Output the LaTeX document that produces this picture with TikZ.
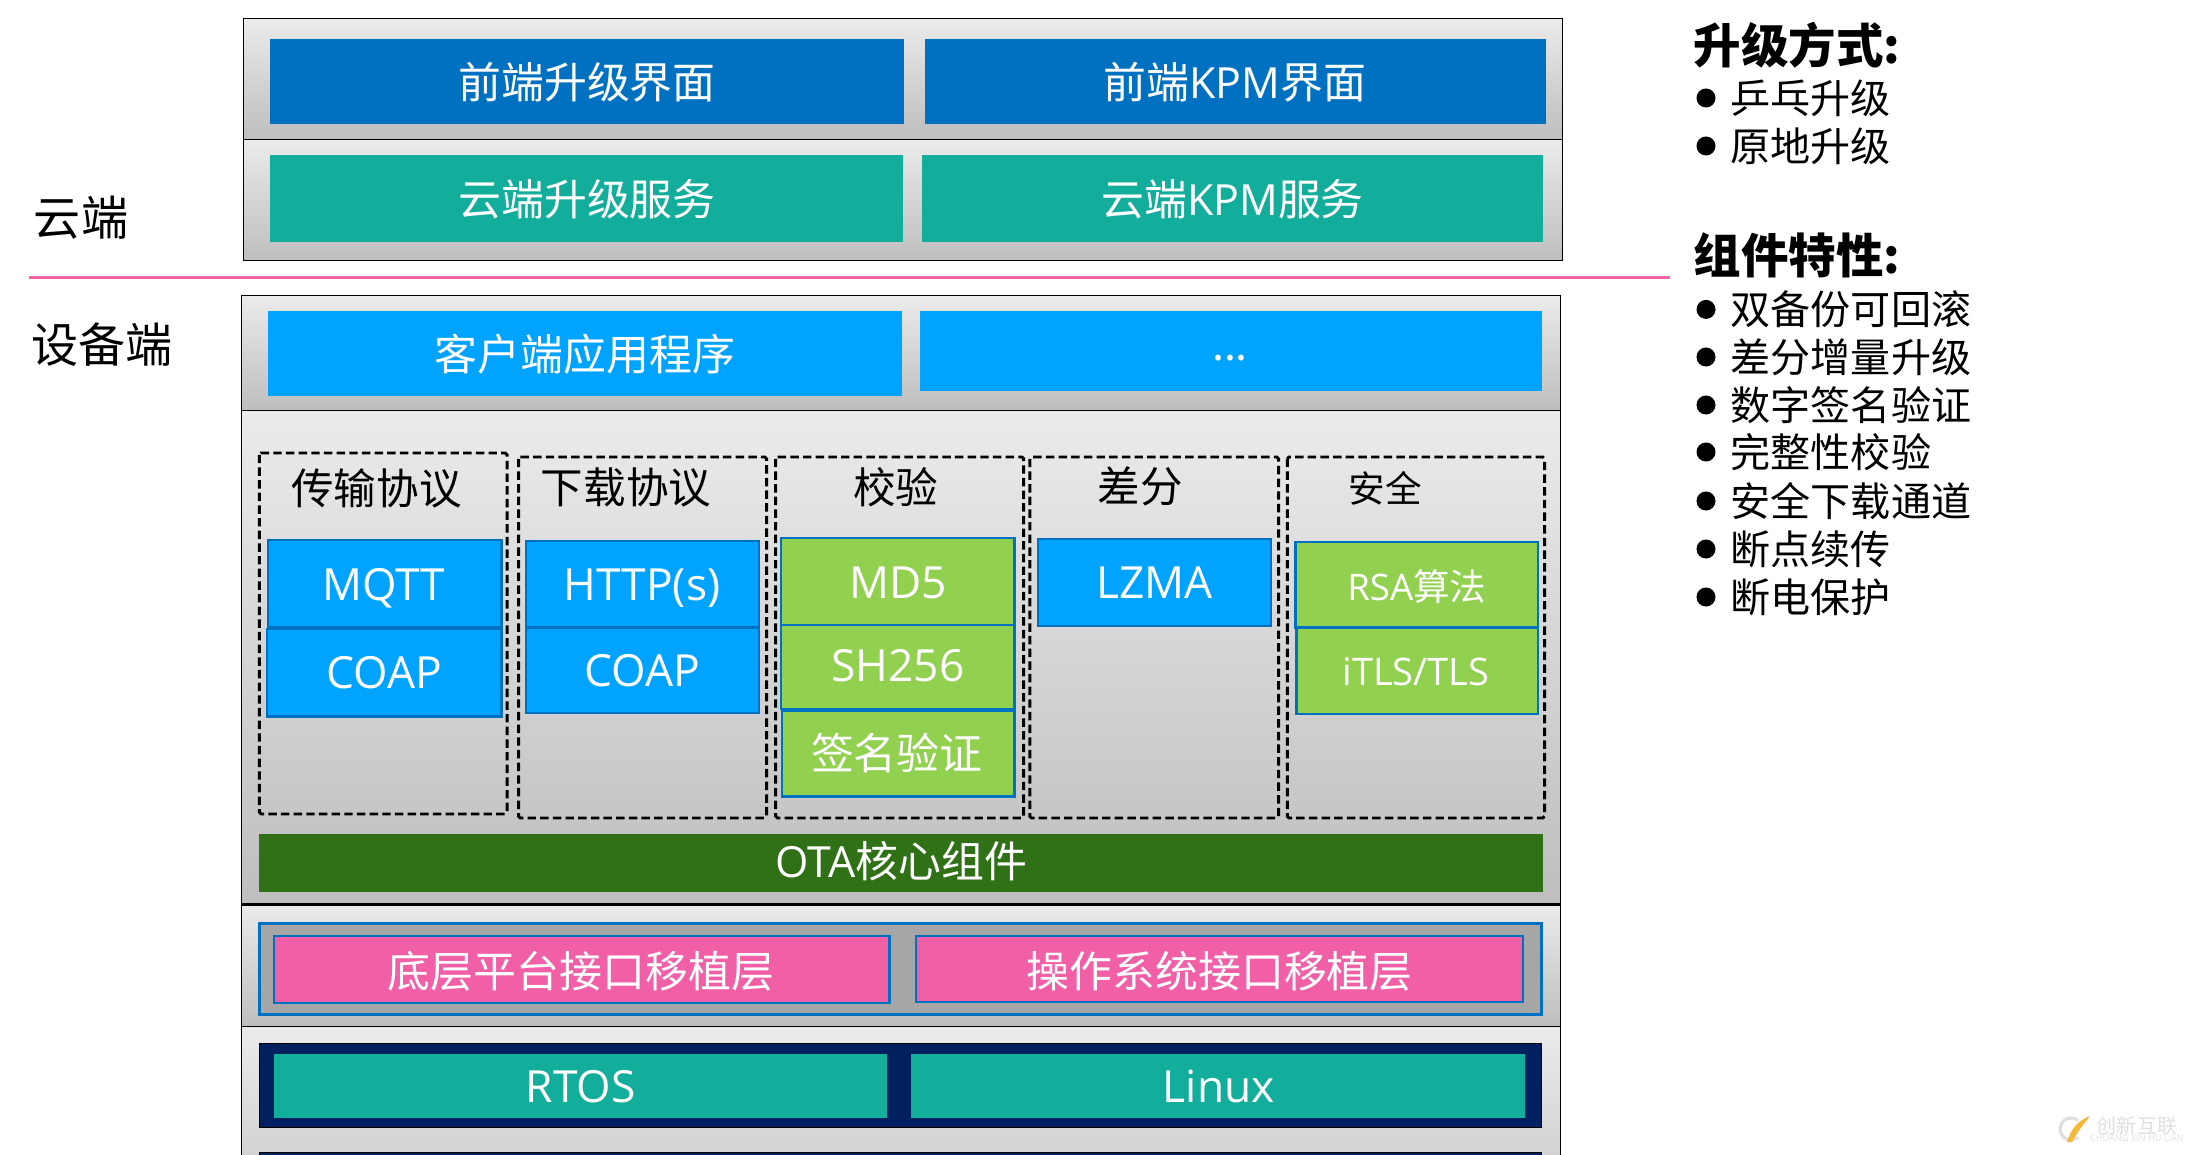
\documentclass[tikz,border=0pt]{standalone}
\usepackage{fontspec}
\setmainfont{Noto Sans CJK SC}
\newfontfamily\latinfont{Open Sans}
\definecolor{layertop}{HTML}{EBEBEB}
\definecolor{layerbot}{HTML}{BEBEBE}
\definecolor{frontblue}{HTML}{0070C0}
\definecolor{appblue}{HTML}{00A3FF}
\definecolor{tealbox}{HTML}{13AE9B}
\definecolor{limebox}{HTML}{92D050}
\definecolor{coregreen}{HTML}{307016}
\definecolor{pinkbox}{HTML}{F15FA6}
\definecolor{navybox}{HTML}{002060}
\definecolor{portgrey}{HTML}{A6A6A6}
\definecolor{markyellow}{HTML}{F5B93A}
\tikzset{
	layer/.style={draw=black, line width=0.45pt, top color=layertop, bottom color=layerbot},
	tile/.style={draw=frontblue, line width=0.75pt},
	group/.style={draw=black, line width=0.85pt, dash pattern=on 2.4pt off 1.2pt, rounded corners=0.5pt},
	boxtext/.style={text=white, inner sep=0pt, font=\fontsize{12.2}{14}\selectfont},
	latintext/.style={text=white, inner sep=0pt, text height=10pt, text depth=0pt, font=\latinfont\fontsize{12.6}{14}\selectfont},
	smalltext/.style={text=white, inner sep=0pt, font=\fontsize{10.4}{12}\selectfont},
	titletext/.style={text=black, inner sep=0pt, font=\fontsize{12.1}{14}\selectfont},
	sidetext/.style={text=black, inner sep=0pt, font=\fontsize{13.4}{15}\selectfont},
	headtext/.style={text=black, inner sep=0pt, anchor=west, font=\bfseries\fontsize{13.5}{16}\selectfont},
	itemtext/.style={text=black, inner sep=0pt, anchor=west, font=\fontsize{11.4}{13}\selectfont},
	itemdot/.style={circle, fill=black, inner sep=0pt, minimum size=0.19cm},
	marktext/.style={text=gray!25, inner sep=0pt},
}
\begin{document}
\begin{tikzpicture}[x=0.01cm, y=-0.01cm]
	\path[use as bounding box, clip] (0,0) rectangle (2191,1155);

	% 1. cloud layers
	\path[layer] (243.6,18.3) rectangle (1562.5,139.3);
	\path[layer] (243.6,139.3) rectangle (1562.5,260.3);
	\fill[frontblue] (269.8,39) rectangle (903.7,124);
	\fill[frontblue] (925,39) rectangle (1546,124);
	\fill[tealbox] (269.8,155) rectangle (903,242);
	\fill[tealbox] (922,155) rectangle (1543,242);
	\node[boxtext] (frontota) at (587,82) {前端升级界面};
	\node[boxtext] (frontkpm) at (1235,82) {前端{\latinfont KPM}界面};
	\node[boxtext] (cloudota) at (587,199) {云端升级服务};
	\node[boxtext] (cloudkpm) at (1232.6,199) {云端{\latinfont KPM}服务};

	% 2. split between cloud and device
	\coordinate (splitL) at (29,277.5);
	\coordinate (splitR) at (1670,277.5);
	\draw[pinkbox, line width=0.8pt] (splitL) -- (splitR);
	\node[sidetext] (cloudside) at (81,218) {云端};
	\node[sidetext] (deviceside) at (102,345) {设备端};

	% 3. device layers
	\path[layer] (241.7,295.3) rectangle (1560.5,410.7);
	\path[layer] (241.7,410.7) rectangle (1560.5,904.7);
	\path[layer] (241.7,904.7) rectangle (1560.5,1026.7);
	\path[layer] (241.7,1026.7) rectangle (1560.5,1267);
	\draw[black, line width=0.7pt] (241.7,904.7) -- (1560.5,904.7);

	% 4. application row
	\fill[appblue] (267.9,311) rectangle (901.8,396);
	\fill[appblue] (920.3,311) rectangle (1542,391);
	\node[boxtext] (clientapp) at (585,354) {客户端应用程序};
	\node[boxtext] (moreapp) at (1230,358) {...};

	% 5. dashed groups
	\draw[group] (259.4,453) rectangle (507,814);
	\draw[group] (518.6,457) rectangle (766.5,818);
	\draw[group] (775.7,457) rectangle (1023.7,818);
	\draw[group] (1029.8,457) rectangle (1278.5,818);
	\draw[group] (1287.3,457) rectangle (1544.5,818);
	\node[titletext] (transport) at (376.5,488) {传输协议};
	\node[titletext] (download) at (626,487) {下载协议};
	\node[titletext] (verify) at (895.6,487) {校验};
	\node[titletext] (diff) at (1140,486) {差分};
	\node[titletext, font=\fontsize{10.4}{12}\selectfont] (safety) at (1385,488) {安全};

	% 6. tiles inside the groups
	\draw[tile, fill=appblue] (268,540) rectangle (501.7,627);
	\draw[tile, fill=appblue] (267,629) rectangle (501.7,716.7);
	\draw[tile, fill=appblue] (526,541) rectangle (759,627);
	\draw[tile, fill=appblue] (526,628) rectangle (759,713);
	\draw[tile, fill=limebox] (781,538) rectangle (1014.5,625);
	\draw[tile, fill=limebox] (781,625) rectangle (1014.5,709);
	\draw[tile, fill=limebox] (782,710.7) rectangle (1014.5,796.7);
	\draw[tile, fill=appblue] (1038,539) rectangle (1271,626);
	\draw[tile, fill=limebox] (1295.7,542) rectangle (1538,627.7);
	\draw[tile, fill=limebox] (1296.5,628) rectangle (1538,714);
	\node[latintext] (mqtt) at (383.6,583) {MQTT};
	\node[latintext] (coapa) at (384,671) {COAP};
	\node[latintext] (http) at (642,583) {HTTP(s)};
	\node[latintext] (coapb) at (642,669) {COAP};
	\node[latintext] (md) at (898,581) {MD5};
	\node[latintext] (sha) at (898,664) {SH256};
	\node[boxtext] (sign) at (896.8,753) {签名验证};
	\node[latintext] (lzma) at (1154.7,581) {LZMA};
	\node[smalltext] (rsa) at (1416.8,587) {{\latinfont RSA}算法};
	\node[latintext, text height=9pt, font=\latinfont\fontsize{10.8}{12}\selectfont] (tls) at (1416,670) {iTLS/TLS};

	% 7. core bar
	\fill[coregreen] (259.3,834) rectangle (1543,892);
	\node[boxtext] (core) at (901.5,861) {{\latinfont OTA}核心组件};

	% 8. porting layer
	\draw[tile, fill=portgrey] (259.3,923.3) rectangle (1541.5,1014.7);
	\draw[tile, fill=pinkbox] (274,936) rectangle (889.4,1003);
	\draw[tile, fill=pinkbox] (916,936) rectangle (1523,1002);
	\node[boxtext] (boardport) at (581,971) {底层平台接口移植层};
	\node[boxtext] (osport) at (1219.7,971) {操作系统接口移植层};

	% 9. system layer
	\draw[black, fill=navybox, line width=0.4pt] (259.3,1043.5) rectangle (1541.5,1127.3);
	\draw[black, fill=navybox, line width=0.4pt] (259.3,1152.7) rectangle (1541.5,1200);
	\fill[tealbox] (274,1054) rectangle (887,1118);
	\fill[tealbox] (911,1054) rectangle (1525,1118);
	\node[latintext] (rtos) at (580.7,1085) {RTOS};
	\node[latintext] (linux) at (1218.7,1085) {Linux};

	% 10. lists on the right
	\node[headtext] (wayhead) at (1693,45) {升级方式:};
	\foreach \n/\y/\t in {a/98/乒乓升级, b/146/原地升级}{
		\node[itemdot] (dot\n) at (1706,\y) {};
		\node[itemtext] (item\n) at (1730,\y) {\t};
	}
	\node[headtext] (parthead) at (1693,255) {组件特性:};
	\foreach \n/\y/\t in {c/309.4/双备份可回滚, d/357/差分增量升级, e/405/数字签名验证, f/452/完整性校验, g/501/安全下载通道, h/549/断点续传, i/597/断电保护}{
		\node[itemdot] (dot\n) at (1706,\y) {};
		\node[itemtext] (item\n) at (1730,\y) {\t};
	}

	% 11. corner mark
	\draw[gray!25, line width=0.9pt] (2071,1129) ++(50:11) arc (50:310:11);
	\fill[markyellow] (2067,1142) .. controls (2071,1128) and (2079,1120) .. (2090,1116) .. controls (2084,1124) and (2077,1132) .. (2072,1142) -- cycle;
	\node[marktext, font=\fontsize{5.7}{7}\selectfont] (markname) at (2137,1126) {创新互联};
	\node[marktext, font=\latinfont\fontsize{2.6}{3}\selectfont] (markpin) at (2137,1138) {CHUANG XIN HU LIAN};
\end{tikzpicture}
\end{document}
